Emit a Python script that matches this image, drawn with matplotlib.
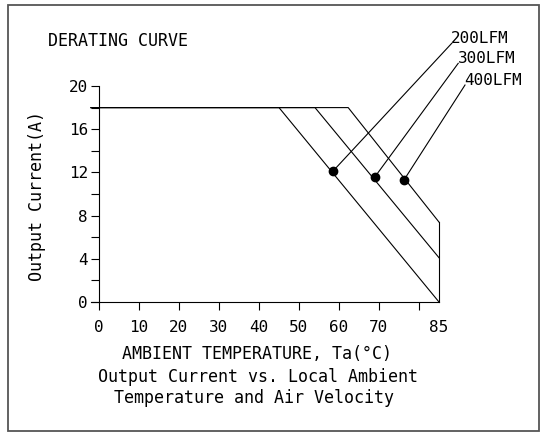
import matplotlib
matplotlib.use("Agg")
import matplotlib.pyplot as plt
from matplotlib.patches import Rectangle

W, H = 540, 434
DPI = 100

# ---- data ----
series_names = ["200LFM", "300LFM", "400LFM"]
max_current = 18.0
break_temps = [45.0, 54.0, 62.3]        # where derating starts
end_temp = 85.0
end_currents = [0.0, 4.1, 7.4]          # current at 85 C
dot_temps = [58.6, 69.0, 76.25]
dot_currents = [12.16, 11.6, 11.3]
leader_end_x = [88.2, 89.8, 91.5]
leader_end_y = [23.96, 22.1, 20.09]

x_ticks = [0, 10, 20, 30, 40, 50, 60, 70, 80, 85]
x_tick_labels = ["0", "10", "20", "30", "40", "50", "60", "70", "", "85"]
y_ticks = [0, 2, 4, 6, 8, 10, 12, 14, 16, 18, 20]
y_tick_labels = ["0", "", "4", "", "8", "", "12", "", "16", "", "20"]

plt.rcParams['font.family'] = ['DejaVu Sans Mono', 'DejaVu Sans']
fig = plt.figure(figsize=(W / DPI, H / DPI), dpi=DPI)

def fx(px):
    return px / W

def fy(py):
    return 1 - py / H

# frame
fig.patches.append(Rectangle((fx(7.5), fy(431)), fx(531.5), (431 - 5) / H,
                             transform=fig.transFigure, fill=False,
                             edgecolor='#555555', linewidth=1.3))

ax_left, ax_right = 91, 439
ax_top, ax_bottom = 86, 302
ax = fig.add_axes([fx(ax_left), fy(ax_bottom), (ax_right - ax_left) / W,
                   (ax_bottom - ax_top) / H])
ax.set_xlim(-2, 85)
ax.set_ylim(0, 20)
ax.patch.set_alpha(0)
for s in ['top', 'right']:
    ax.spines[s].set_visible(False)
ax.spines['left'].set_position(('data', 0))
ax.spines['left'].set_bounds(0, 20)
for s in ['left', 'bottom']:
    ax.spines[s].set_linewidth(0.8)

lw = 0.8
for bt, ec in zip(break_temps, end_currents):
    ax.plot([-2, bt, end_temp], [max_current, max_current, ec],
            color='black', lw=lw, clip_on=False)
ax.plot([end_temp, end_temp], [0, max(end_currents)], color='black', lw=lw,
        clip_on=False)

for dx, dy, lx, ly, name in zip(dot_temps, dot_currents, leader_end_x,
                                leader_end_y, series_names):
    ax.plot([dx, lx], [dy, ly], color='black', lw=lw, clip_on=False)
    ax.plot(dx, dy, 'o', color='black', ms=6, clip_on=False, zorder=5)
    ax.text(lx - 0.2, ly + 0.45, name, fontsize=11.5, ha='left', va='center',
            clip_on=False)

ax.set_xticks(x_ticks)
ax.set_xticklabels(x_tick_labels)
ax.set_yticks(y_ticks)
ax.set_yticklabels(y_tick_labels)
ax.tick_params(axis='x', direction='out', length=6, width=0.8, pad=7,
               labelsize=11.5)
ax.tick_params(axis='y', direction='out', length=6, width=0.8, pad=2,
               labelsize=11.5)
ax.xaxis.get_major_ticks()[-1].tick1line.set_visible(False)

fs = 12
fig.text(fx(48), fy(41), "DERATING CURVE", fontsize=fs, ha='left', va='center')
fig.text(fx(37), fy(196), "Output Current(A)", fontsize=fs, ha='center',
         va='center', rotation=90)
fig.text(fx(257), fy(354), "AMBIENT TEMPERATURE, Ta(°C)", fontsize=fs,
         ha='center', va='center')
fig.text(fx(258.5), fy(377), "Output Current vs. Local Ambient", fontsize=fs,
         ha='center', va='center')
fig.text(fx(253.5), fy(398), "Temperature and Air Velocity", fontsize=fs,
         ha='center', va='center')

fig.savefig("out.png", dpi=DPI)
